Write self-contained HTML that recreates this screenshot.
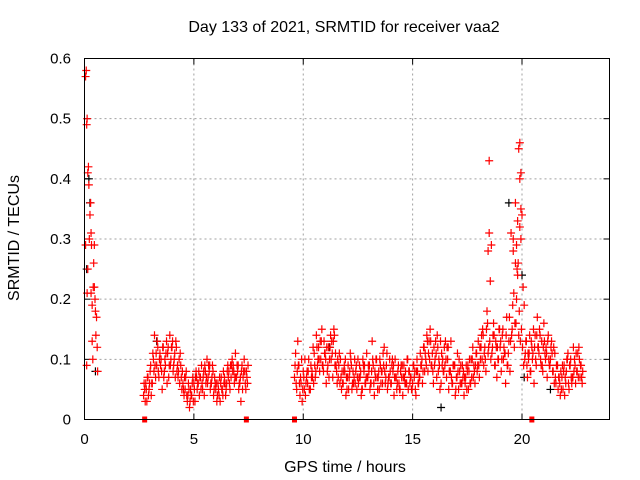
<!DOCTYPE html>
<html><head><meta charset="utf-8">
<style>
html,body{margin:0;padding:0;background:#fff;}
svg{display:block;font-family:"Liberation Sans",sans-serif;}
</style></head>
<body>
<svg id="chart" width="640" height="480" viewBox="0 0 640 480" xmlns="http://www.w3.org/2000/svg">
<rect x="0" y="0" width="640" height="480" fill="#fff"/>
<text x="344" y="32" font-size="16" text-anchor="middle">Day 133 of 2021, SRMTID for receiver vaa2</text>
<text x="0" y="0" font-size="16" text-anchor="middle" transform="translate(19,238) rotate(-90)">SRMTID / TECUs</text>
<text x="345" y="472" font-size="16" text-anchor="middle">GPS time / hours</text>
<g id="grid"></g>
<g id="ticks"></g>
<g id="black"></g>
<g id="red"></g>
<rect x="84.5" y="58.5" width="525" height="361" fill="none" stroke="#000" stroke-width="1"/>
</svg>
<script>
const xTicks=[0,5,10,15,20];
const yTicks=[0,0.1,0.2,0.3,0.4,0.5,0.6];
const yTickLabels=["0","0.1","0.2","0.3","0.4","0.5","0.6"];
const spikeTimes=[0.05,0.08,0.1,0.12,0.15,0.05,0.1,0.18,0.2,0.22,0.25,0.28,0.3,0.32,0.35,0.38,0.4,0.42,0.45,0.48,0.5,0.52,0.55,0.58,0.6,0.12,0.15,0.3,0.35,0.45,19.85,19.9,19.95,19.8,19.75,19.7,19.6,18.5,18.45,19.95,19.9];
const spikeValues=[0.57,0.58,0.49,0.50,0.41,0.29,0.09,0.42,0.39,0.30,0.34,0.36,0.21,0.29,0.13,0.10,0.22,0.26,0.22,0.20,0.18,0.14,0.17,0.12,0.08,0.21,0.25,0.31,0.19,0.29,0.45,0.40,0.41,0.33,0.29,0.26,0.30,0.31,0.28,0.35,0.32];
const segBStart=2.7;
const segBa=[.04,.06,.07,.08,.06,.14,.09,.07,.10,.12,.09,.11,.14,.12,.10,.12,.08,.09,.06,.05,.03,.02,.04,.06,.08,.06,.07,.05,.09,.10,.08,.06,.04,.05,.06,.03,.05,.07,.06,.08,.07,.09,.11,.08,.06,.09,.10,.08];
const segBb=[.05,.03,.05,.04,.10,.07,.12,.11,.05,.08,.13,.07,.10,.08,.07,.09,.06,.05,.04,.08,.06,.05,.07,.03,.05,.04,.09,.08,.06,.07,.05,.09,.07,.03,.04,.07,.08,.04,.09,.05,.10,.06,.07,.05,.03,.07,.06,.06];
const segBc=[.06,.05,.04,.09,.11,.09,.13,.10,.08,.07,.11,.12,.09,.13,.11,.08,.10,.07,.05,.07,.04,.03,.06,.05,.07,.08,.05,.07,.08,.06,.09,.07,.05,.06,.05,.06,.04,.06,.08,.06,.09,.08,.07,.09,.07,.05,.08,.07];
const segBd=[.03,.07,.06,.06,.08,.11,.08,.09,.12,.10,.06,.09,.12,.09,.13,.07,.11,.08,.07,.04,.05,.04,.03,.07,.06,.07,.06,.04,.07,.09,.06,.08,.06,.04,.07,.05,.06,.05,.07,.09,.08,.07,.09,.06,.08,.08,.05,.09];
const segCStart=9.6;
const segCa=[.07,.05,.09,.06,.08,.04,.06,.05,.08,.11,.14,.12,.10,.09,.11,.08,.10,.13,.15,.09,.07,.10,.06,.08,.05,.07,.09,.06,.08,.10,.07,.05,.09,.11,.08,.06,.09,.07,.05,.10,.08,.12,.09,.07,.06,.08,.10,.06,.05,.07,.09,.06,.05,.07,.06,.08,.10,.07,.09,.12,.10,.08,.15,.11,.09,.07,.10,.06,.08,.13,.10,.08,.06,.09,.07,.05,.09,.07,.06,.08,.10,.07,.09,.11,.13,.10,.15,.12,.18,.43,.29,.16,.13,.10,.12,.14,.11,.17,.13,.31,.28,.36,.24,.46,.34,.19,.13,.10,.08,.11,.14,.17,.15,.13,.16,.12,.14,.10,.08,.11,.09,.07,.05,.08,.06,.11,.09,.07,.10,.08,.12,.09];
const segCb=[.11,.13,.04,.03,.05,.07,.10,.09,.12,.07,.09,.08,.15,.13,.06,.12,.14,.07,.09,.06,.11,.05,.08,.04,.09,.11,.06,.10,.05,.07,.04,.09,.06,.07,.05,.13,.04,.10,.08,.06,.11,.06,.05,.10,.09,.04,.07,.09,.08,.04,.06,.10,.08,.05,.09,.04,.06,.11,.06,.08,.14,.13,.09,.06,.13,.12,.05,.09,.12,.07,.05,.13,.09,.04,.11,.08,.06,.04,.09,.05,.06,.12,.06,.08,.07,.14,.09,.08,.11,.23,.12,.09,.07,.15,.08,.10,.06,.09,.08,.15,.12,.20,.14,.30,.22,.11,.07,.14,.12,.06,.09,.12,.10,.08,.11,.07,.09,.13,.12,.06,.05,.04,.09,.04,.10,.05,.07,.12,.06,.11,.07,.06];
const segCc=[.09,.08,.06,.10,.07,.06,.08,.05,.07,.09,.12,.10,.13,.08,.10,.09,.12,.11,.14,.08,.09,.07,.06,.10,.07,.08,.05,.07,.09,.06,.08,.10,.06,.07,.09,.08,.06,.10,.07,.09,.06,.08,.11,.07,.06,.09,.07,.08,.05,.09,.07,.06,.08,.07,.09,.05,.08,.07,.10,.12,.09,.11,.13,.08,.10,.14,.09,.11,.08,.10,.12,.08,.06,.09,.07,.10,.06,.08,.07,.09,.06,.10,.08,.11,.09,.12,.14,.10,.16,.13,.11,.14,.12,.10,.13,.15,.11,.09,.17,.14,.21,.16,.26,.13,.12,.10,.09,.11,.13,.15,.10,.12,.14,.09,.13,.11,.10,.12,.08,.07,.09,.06,.07,.09,.08,.06,.10,.07,.09,.08,.10,.07];
const segCd=[.06,.09,.07,.05,.10,.08,.05,.07,.06,.08,.10,.13,.09,.11,.12,.07,.10,.13,.11,.10,.06,.08,.09,.07,.05,.10,.08,.06,.07,.09,.05,.08,.07,.09,.06,.10,.08,.07,.05,.08,.09,.07,.06,.08,.10,.07,.05,.06,.09,.07,.08,.10,.06,.05,.07,.08,.06,.09,.08,.11,.13,.10,.09,.12,.11,.08,.13,.10,.09,.12,.08,.07,.09,.05,.08,.06,.09,.07,.05,.08,.10,.07,.09,.09,.12,.10,.11,.15,.12,.10,.14,.09,.12,.15,.10,.12,.14,.11,.13,.19,.16,.25,.18,.15,.09,.13,.11,.08,.10,.12,.14,.11,.09,.12,.10,.13,.09,.11,.06,.09,.07,.08,.05,.07,.10,.09,.06,.08,.11,.07,.09,.08];
const blackTimes=[0.2,0.1,0.5,3.3,16.3,20.1,19.4,20.0,21.3,0.25,11.2];
const blackValues=[0.40,0.25,0.08,0.13,0.02,0.07,0.36,0.24,0.05,0.36,0.12];
const zeroTimes=[2.75,7.4,9.6,20.45];

const NS="http://www.w3.org/2000/svg";
const X0=84.5,X1=609.5,Y0=419.5,Y1=58.5,XMAX=24,YMAX=0.6;
function xs(t){return X0+(X1-X0)*t/XMAX;}
function ys(v){return Y0-(Y0-Y1)*v/YMAX;}
function mk(tag,attrs,parent){const e=document.createElementNS(NS,tag);for(const k in attrs)e.setAttribute(k,attrs[k]);parent.appendChild(e);return e;}

const grid=document.getElementById('grid');
const ticks=document.getElementById('ticks');
xTicks.forEach(t=>{
  const x=xs(t);
  if(t>0){const g=mk('line',{x1:x,x2:x,y1:Y1,y2:Y0,stroke:'#a0a0a0','stroke-dasharray':'2,3'},grid);
  
  }
  mk('line',{x1:x,x2:x,y1:Y0,y2:Y0-6,stroke:'#000'},ticks);
  mk('line',{x1:x,x2:x,y1:Y1,y2:Y1+6,stroke:'#000'},ticks);
  const lb=mk('text',{x:x,y:444,'font-size':15,'text-anchor':'middle'},ticks);
  lb.textContent=String(t);
  
  
});
yTicks.forEach((v,i)=>{
  const y=ys(v);
  if(v>0&&v<YMAX){const g=mk('line',{x1:X0,x2:X1,y1:y,y2:y,stroke:'#a0a0a0','stroke-dasharray':'2,3'},grid);
  
  }
  mk('line',{x1:X0,x2:X0+6,y1:y,y2:y,stroke:'#000'},ticks);
  mk('line',{x1:X1,x2:X1-6,y1:y,y2:y,stroke:'#000'},ticks);
  const lb=mk('text',{x:71,y:y+5,'font-size':15,'text-anchor':'end'},ticks);
  lb.textContent=yTickLabels[i];
  
  
});

function plus(parent,t,v,color){
  const x=xs(t),y=ys(v);
  const p=mk('path',{d:`M${x-4} ${y}H${x+4}M${x} ${y-4}V${y+4}`,stroke:color,'stroke-width':1.2,fill:'none'},parent);
  
  
}
const black=document.getElementById('black');
const red=document.getElementById('red');
blackTimes.forEach((t,i)=>plus(black,t,blackValues[i],'#000'));
spikeTimes.forEach((t,i)=>plus(red,t,spikeValues[i],'#f00'));
segBa.forEach((v,i)=>{const t=segBStart+i*0.1;
  plus(red,t,v,'#f00');plus(red,t+0.025,segBc[i],'#f00');
  plus(red,t+0.05,segBb[i],'#f00');plus(red,t+0.075,segBd[i],'#f00');});
segCa.forEach((v,i)=>{const t=segCStart+i*0.1;
  plus(red,t,v,'#f00');plus(red,t+0.025,segCc[i],'#f00');
  plus(red,t+0.05,segCb[i],'#f00');plus(red,t+0.075,segCd[i],'#f00');});
zeroTimes.forEach(t=>{
  const r=mk('rect',{x:xs(t)-2.5,y:Y0-3,width:5,height:6,fill:'#f00'},red);
  
  
});
</script>
</body></html>
